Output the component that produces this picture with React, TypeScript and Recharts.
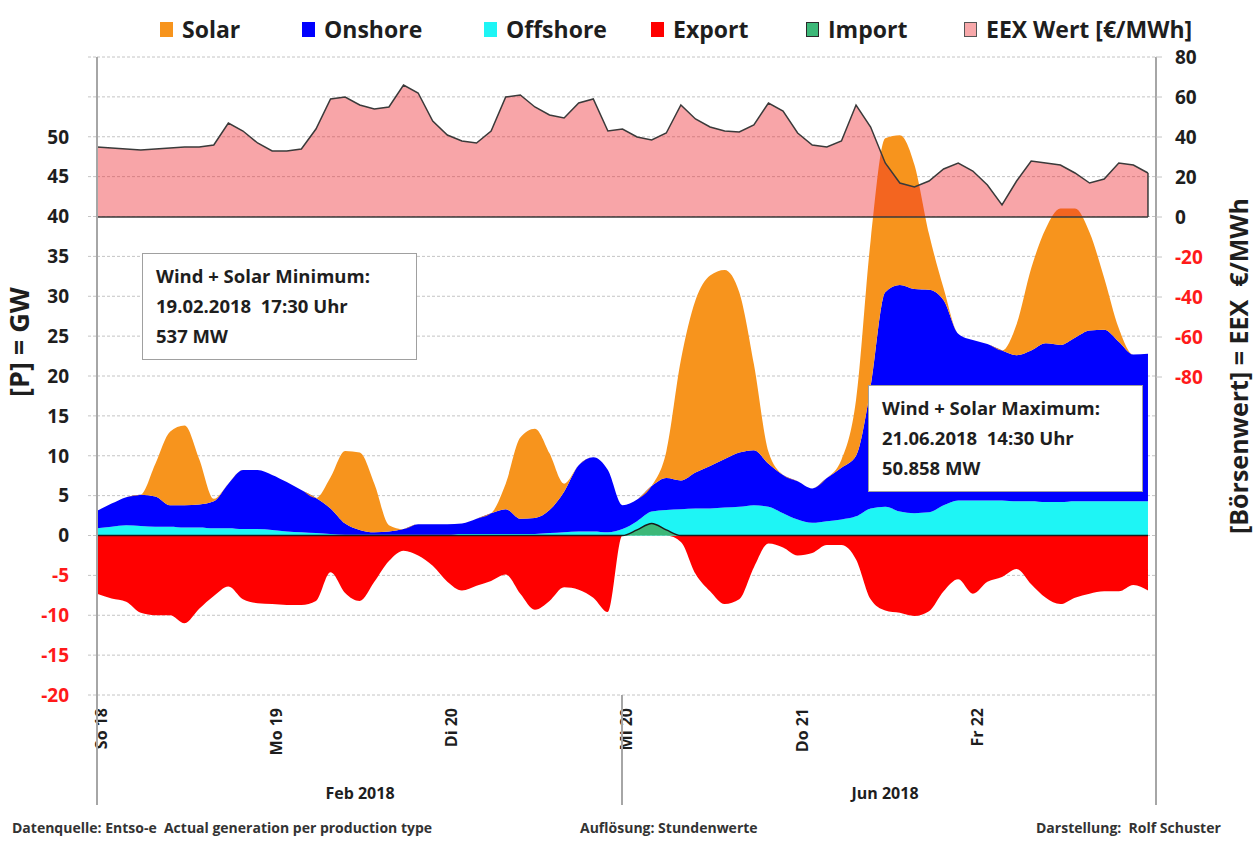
import { Area, CartesianGrid, ComposedChart, ReferenceLine, XAxis, YAxis } from "recharts";

// x positions: one value every 2 hours, Feb 18-20 then Jun 20-22 (6 days)
const DAY_TICKS = [0, 24, 48, 72, 96, 120];
const DAY_LABELS = ["So 18", "Mo 19", "Di 20", "Mi 20", "Do 21", "Fr 22"];
const MONTH_LABELS = ["Feb 2018", "Jun 2018"];
const GW_TICKS = [-20, -15, -10, -5, 0, 5, 10, 15, 20, 25, 30, 35, 40, 45, 50, 55, 60];
const EEX_TICKS = [-80, -60, -40, -20, 0, 20, 40, 60, 80];

// GW
const OFFSHORE = [
  0.9, 1.1, 1.3, 1.2, 1.1, 1.1, 1.0, 1.0, 0.9, 0.9, 0.8, 0.8, 0.7, 0.5, 0.4, 0.3, 0.2, 0.1, 0.1, 0.1,
  0.1, 0.1, 0.1, 0.1, 0.1, 0.2, 0.2, 0.2, 0.2, 0.2, 0.2, 0.3, 0.4, 0.5, 0.5, 0.4,
  0.8, 1.8, 3.0, 3.2, 3.3, 3.4, 3.4, 3.5, 3.6, 3.8, 3.6, 2.8, 2.0, 1.6, 1.8, 2.0, 2.4, 3.4, 3.6, 3.0,
  2.8, 2.9, 3.8, 4.4, 4.4, 4.4, 4.4, 4.3, 4.3, 4.2, 4.2, 4.3, 4.3, 4.3, 4.3, 4.3, 4.3,
];
const ONSHORE = [
  2.2, 2.9, 3.5, 3.9, 3.8, 2.7, 2.8, 2.9, 3.4, 5.6, 7.4, 7.4, 6.9, 6.2, 5.3, 4.4, 3.2, 1.4, 0.6, 0.3,
  0.4, 0.7, 1.3, 1.3, 1.3, 1.3, 1.9, 2.6, 3.1, 1.9, 2.0, 2.9, 5.1, 8.3, 9.3, 7.8,
  3.0, 2.7, 3.2, 4.0, 3.6, 4.5, 5.3, 6.1, 6.8, 6.9, 5.4, 4.8, 4.8, 4.3, 5.4, 6.5, 7.6, 15.1, 26.9, 28.4,
  28.1, 27.9, 25.7, 20.9, 20.1, 19.6, 18.8, 18.3, 18.9, 19.9, 19.7, 20.5, 21.4, 21.5, 20.0, 18.4, 18.5,
];
const SOLAR = [
  0, 0, 0, 0, 4.1, 9.2, 10.0, 5.7, 0.3, 0, 0, 0, 0, 0, 0, 0, 3.9, 9.1, 9.7, 6.1,
  0.8, 0, 0, 0, 0, 0, 0, 0, 3.2, 10.2, 11.2, 7.1, 1.0, 0, 0, 0,
  0, 0, 0, 3.3, 15.1, 21.6, 23.9, 23.7, 20.1, 10.8, 1.5, 0, 0, 0, 0, 1.0, 7.0, 18.5, 19.3, 18.8,
  15.6, 7.0, 1.5, 0, 0, 0, 0, 3.9, 10.3, 14.4, 17.1, 16.2, 12.3, 6.5, 1.7, 0, 0,
];
const EXPORT = [
  -7.3, -7.9, -8.3, -9.7, -10.0, -10.0, -11.0, -9.2, -7.6, -6.4, -8.0, -8.5, -8.6, -8.7, -8.7, -8.2, -4.6, -7.2, -8.2, -5.8,
  -3.2, -1.9, -2.5, -3.8, -5.8, -6.9, -6.3, -5.7, -4.9, -7.3, -9.3, -8.2, -6.5, -6.8, -7.8, -9.6,
  0, 0, 0, 0, -0.8, -4.8, -7.0, -8.6, -8.0, -4.0, -1.0, -1.5, -2.5, -2.2, -1.2, -1.2, -3.0, -8.0, -9.4, -9.7,
  -10.1, -9.5, -7.0, -5.5, -7.3, -5.8, -5.2, -4.2, -6.1, -7.8, -8.6, -7.8, -7.3, -7.0, -7.0, -6.2, -6.9,
];
const IMPORT = [
  0, 0, 0, 0, 0, 0, 0, 0, 0, 0, 0, 0, 0, 0, 0, 0, 0, 0, 0, 0,
  0, 0, 0, 0, 0, 0, 0, 0, 0, 0, 0, 0, 0, 0, 0, 0,
  0, 0.7, 1.5, 0.7, 0, 0, 0, 0, 0, 0, 0, 0, 0, 0, 0, 0, 0, 0, 0, 0,
  0, 0, 0, 0, 0, 0, 0, 0, 0, 0, 0, 0, 0, 0, 0, 0, 0,
];
// €/MWh
const EEX = [
  35, 34.5, 34, 33.5, 34, 34.5, 35, 35, 36, 47, 43, 37, 33, 33, 34, 44, 59, 60, 56, 54,
  55, 66, 62, 48, 41, 38, 37, 43, 60, 61, 55, 51, 49.5, 57, 59, 43,
  44, 40, 38.5, 42, 56, 49, 45, 43, 42.5, 46, 57, 53, 42, 36, 35, 38, 56, 45, 27, 17,
  15, 18, 24, 27, 23, 16, 6, 18, 28, 27, 26, 22, 17, 19, 27, 26, 22,
];

const data = OFFSHORE.map((offshore, i) => ({
  h: i * 2,
  offshore,
  onshore: ONSHORE[i],
  solar: SOLAR[i],
  export: EXPORT[i],
  import: IMPORT[i],
  eex: EEX[i],
}));
const LAST_H = data[data.length - 1].h;

const RED = "#ff1a1a";
const TEXT = "#1e1e1e";
const FONT = "'Open Sans', sans-serif";

const LEGEND = [
  { label: "Solar", color: "#f7941d", left: 160, border: "none" },
  { label: "Onshore", color: "#0000ff", left: 302, border: "none" },
  { label: "Offshore", color: "#1ef5f5", left: 484, border: "none" },
  { label: "Export", color: "#ff0000", left: 651, border: "none" },
  { label: "Import", color: "#3cb878", left: 806, border: "1.5px solid #2a2a2a" },
  { label: "EEX Wert [€/MWh]", color: "#f7a8aa", left: 964, border: "1.5px solid #555" },
];

function GwTick({ x, y, payload }: any) {
  const v = payload.value;
  if (v > 50) return <g />;
  return (
    <text x={x} y={y} dy="0.36em" textAnchor="end" fill={v < 0 ? RED : TEXT} fontSize={19} fontWeight={700}>
      {v}
    </text>
  );
}

function EexTick({ x, y, payload }: any) {
  const v = payload.value;
  return (
    <text x={x} y={y} dy="0.36em" textAnchor="start" fill={v < 0 ? RED : TEXT} fontSize={19} fontWeight={700}>
      {v}
    </text>
  );
}

function DayTick({ x, y, payload }: any) {
  const label = DAY_LABELS[DAY_TICKS.indexOf(payload.value)];
  const tx = x + 4;
  return (
    <text
      x={tx}
      y={y}
      transform={`rotate(-90 ${tx} ${y})`}
      textAnchor="end"
      dominantBaseline="central"
      fill={TEXT}
      fontSize={16}
      fontWeight={700}
    >
      {label}
    </text>
  );
}

function NoteBox({ left, top, lines }: { left: number; top: number; lines: string[] }) {
  return (
    <div
      style={{
        position: "absolute",
        left,
        top,
        width: 275,
        height: 107,
        boxSizing: "border-box",
        background: "#fff",
        border: "1.5px solid #a0a0a0",
        padding: "7px 0 0 13px",
        fontSize: 18.5,
        fontWeight: 700,
        lineHeight: "30px",
        color: TEXT,
        whiteSpace: "pre",
      }}
    >
      {lines.map((l) => (
        <div key={l}>{l}</div>
      ))}
    </div>
  );
}

const sep = (left: number) => (
  <div key={left} style={{ position: "absolute", left: left - 1, top: 695, width: 2, height: 110, background: "#a6a6a6" }} />
);

const footStyle = { position: "absolute" as const, top: 818, fontSize: 14, fontWeight: 700, color: "#333", whiteSpace: "pre" as const };

export default function App() {
  return (
    <div style={{ position: "absolute", left: 0, top: 0, width: 1255, height: 843, background: "#fff", fontFamily: FONT }}>
      <ComposedChart
        width={1255}
        height={843}
        data={data}
        margin={{ top: 57, right: 0, bottom: 0, left: 0 }}
        style={{ fontFamily: FONT }}
      >
        <CartesianGrid yAxisId="left" vertical={false} stroke="#c4c4c4" strokeDasharray="3 2" />
        <XAxis
          type="number"
          dataKey="h"
          domain={[0, 145.1]}
          ticks={DAY_TICKS}
          tick={<DayTick />}
          tickLine={false}
          axisLine={false}
          tickSize={0}
          tickMargin={13}
          height={148}
          allowDataOverflow
        />
        <YAxis
          yAxisId="left"
          width={97}
          domain={[-20, 60]}
          ticks={GW_TICKS}
          interval={0}
          tick={<GwTick />}
          tickSize={9}
          tickMargin={19}
          tickLine={{ stroke: "#c4c4c4", strokeDasharray: "3 2" }}
          axisLine={{ stroke: "#a6a6a6", strokeWidth: 2 }}
          allowDataOverflow
        />
        <YAxis
          yAxisId="right"
          orientation="right"
          width={99}
          domain={[-239, 80]}
          ticks={EEX_TICKS}
          interval={0}
          tick={<EexTick />}
          tickSize={6}
          tickMargin={13}
          tickLine={{ stroke: "#c4c4c4" }}
          axisLine={{ stroke: "#a6a6a6", strokeWidth: 2 }}
          allowDataOverflow
        />
        <Area yAxisId="left" type="monotone" dataKey="export" stroke="none" fill="#ff0000" fillOpacity={1} dot={false} activeDot={false} isAnimationActive={false} />
        <Area yAxisId="left" stackId="gen" type="monotone" dataKey="offshore" stroke="none" fill="#1ef5f5" fillOpacity={1} dot={false} activeDot={false} isAnimationActive={false} />
        <Area yAxisId="left" stackId="gen" type="monotone" dataKey="onshore" stroke="none" fill="#0000ff" fillOpacity={1} dot={false} activeDot={false} isAnimationActive={false} />
        <Area yAxisId="left" stackId="gen" type="monotone" dataKey="solar" stroke="none" fill="#f7941d" fillOpacity={1} dot={false} activeDot={false} isAnimationActive={false} />
        <Area yAxisId="left" type="monotone" dataKey="import" stroke="#1a1a1a" strokeWidth={1.5} fill="#3cb878" fillOpacity={1} dot={false} activeDot={false} isAnimationActive={false} />
        <Area yAxisId="right" type="linear" dataKey="eex" stroke="#3a3a3a" strokeWidth={1.5} fill="#ed1e25" fillOpacity={0.4} dot={false} activeDot={false} isAnimationActive={false} />
        <ReferenceLine yAxisId="right" segment={[{ x: 0, y: 0 }, { x: LAST_H, y: 0 }]} stroke="#3a3a3a" strokeWidth={1.5} />
        <ReferenceLine yAxisId="right" segment={[{ x: 0, y: 0 }, { x: 0, y: EEX[0] }]} stroke="#3a3a3a" strokeWidth={1.5} />
        <ReferenceLine yAxisId="right" segment={[{ x: LAST_H, y: 0 }, { x: LAST_H, y: EEX[EEX.length - 1] }]} stroke="#3a3a3a" strokeWidth={1.5} />
      </ComposedChart>

      {/* legend */}
      {LEGEND.map((it) => (
        <div key={it.label} style={{ position: "absolute", left: it.left, top: 14, display: "flex", alignItems: "center", gap: 9, whiteSpace: "nowrap" }}>
          <span style={{ width: 13, height: 15, boxSizing: "border-box", background: it.color, border: it.border }} />
          <span style={{ fontSize: 23, fontWeight: 700, color: TEXT, lineHeight: "30px" }}>{it.label}</span>
        </div>
      ))}

      {/* axis titles */}
      <div style={{ position: "absolute", left: 18, top: 342, transform: "translate(-50%, -50%) rotate(-90deg)", fontSize: 27, fontWeight: 700, color: TEXT, whiteSpace: "nowrap" }}>
        [P] = GW
      </div>
      <div style={{ position: "absolute", left: 1238, top: 366, transform: "translate(-50%, -50%) rotate(-90deg)", fontSize: 25, fontWeight: 700, color: TEXT, whiteSpace: "pre" }}>
        {"[Börsenwert] = EEX  €/MWh"}
      </div>

      <NoteBox left={142} top={253} lines={["Wind + Solar Minimum:", "19.02.2018  17:30 Uhr", "537 MW"]} />
      <NoteBox left={868} top={385} lines={["Wind + Solar Maximum:", "21.06.2018  14:30 Uhr", "50.858 MW"]} />

      {/* month level of the x axis */}
      {[97, 622, 1156].map(sep)}
      {MONTH_LABELS.map((m, i) => (
        <div key={m} style={{ position: "absolute", left: i === 0 ? 360 : 885, top: 793, transform: "translate(-50%, -50%)", fontSize: 16, fontWeight: 700, color: TEXT, whiteSpace: "nowrap" }}>
          {m}
        </div>
      ))}

      {/* footer */}
      <div style={{ ...footStyle, left: 12 }}>{"Datenquelle: Entso-e  Actual generation per production type"}</div>
      <div style={{ ...footStyle, left: 580 }}>{"Auflösung: Stundenwerte"}</div>
      <div style={{ ...footStyle, left: 1036 }}>{"Darstellung:  Rolf Schuster"}</div>
    </div>
  );
}
